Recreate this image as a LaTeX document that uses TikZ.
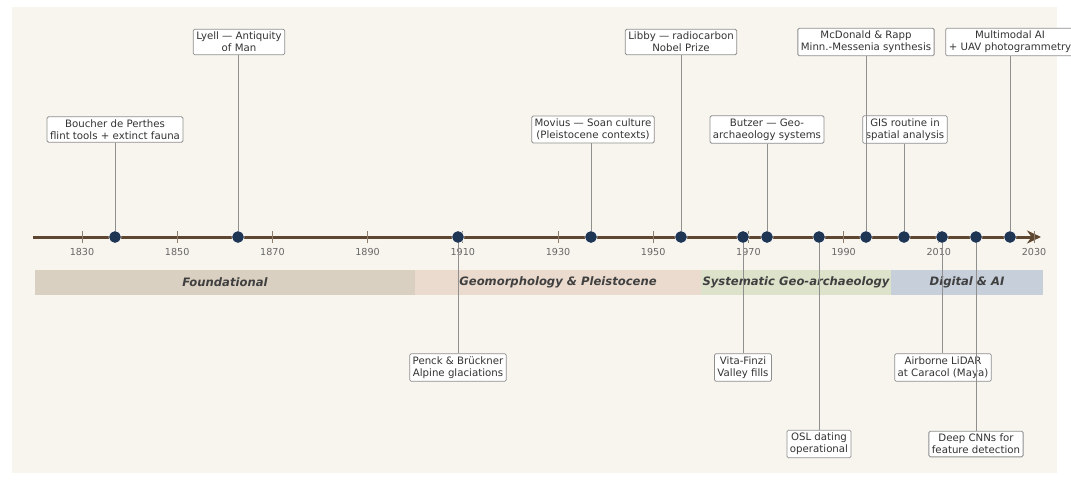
\documentclass[tikz,border=0pt]{standalone}
\usepackage{fontspec}
\setmainfont{DejaVu Sans}
\usetikzlibrary{arrows.meta}
\definecolor{cream}{HTML}{F8F5EE}
\definecolor{axisbrown}{HTML}{5E4630}
\definecolor{dotnavy}{HTML}{1F3554}
\definecolor{bandA}{HTML}{D9D0C1}
\definecolor{bandB}{HTML}{EBDBCF}
\definecolor{bandC}{HTML}{DDE3CB}
\definecolor{bandD}{HTML}{C7D0DA}
\definecolor{boxline}{HTML}{8F8F8F}
\definecolor{txt}{HTML}{333333}
\definecolor{ticktxt}{HTML}{666666}
\begin{document}
\begin{tikzpicture}[x=1pt,y=-1pt,
  evbox/.style={draw=boxline, fill=white, line width=0.8pt, rounded corners=1.5pt,
    inner xsep=3pt, inner ysep=3pt, align=center, text=txt,
    font=\fontsize{10.2}{11.8}\selectfont},
  conn/.style={draw=boxline, line width=0.7pt},
  evdot/.style={circle, fill=dotnavy, draw=white, line width=0.6pt, minimum size=12pt, inner sep=0pt},
  bandlabel/.style={font=\fontsize{11.6}{13}\selectfont\bfseries\itshape, text=black!75},
  ticklbl/.style={font=\fontsize{9.6}{11}\selectfont, text=ticktxt},
  tickmark/.style={draw=axisbrown!70, line width=0.7pt}]
\useasboundingbox (0,0) rectangle (1071,482);
\fill[white] (0,0) rectangle (1071,482);
\fill[cream] (12,7) rectangle (1057,473);
% phase bands
\fill[bandA] (35,270) rectangle (415,295);
\fill[bandB] (415,270) rectangle (701,295);
\fill[bandC] (701,270) rectangle (891,295);
\fill[bandD] (891,270) rectangle (1043,295);
\node[bandlabel] (bA) at (225,282.5) {Foundational};
\node[bandlabel] (bB) at (558,282.5) {Geomorphology \& Pleistocene};
\node[bandlabel] (bC) at (796,282.5) {Systematic Geo-archaeology};
\node[bandlabel] (bD) at (967,282.5) {Digital \& AI};
% axis
\coordinate (axs) at (33,237);
\coordinate (axe) at (1041,237);
\draw[axisbrown, line width=3pt, -{Stealth[length=14pt,width=13pt]}] (axs) -- (axe);
% ticks
\foreach \yr [count=\i from 0] in {1830,1850,...,2030}{
  \pgfmathsetmacro{\xx}{82+\i*95.2}
  \draw[tickmark] (\xx,231) -- (\xx,243);
  \node[ticklbl] (t\yr) at (\xx,252.5) {\yr};
}
% event dots
\node[evdot] (d1) at (115,237) {};
\node[evdot] (d2) at (238,237) {};
\node[evdot] (d3) at (458,237) {};
\node[evdot] (d4) at (591,237) {};
\node[evdot] (d5) at (681,237) {};
\node[evdot] (d6) at (743,237) {};
\node[evdot] (d7) at (767,237) {};
\node[evdot] (d8) at (819,237) {};
\node[evdot] (d9) at (866,237) {};
\node[evdot] (d10) at (904,237) {};
\node[evdot] (d11) at (942,237) {};
\node[evdot] (d12) at (976,237) {};
\node[evdot] (d13) at (1010,237) {};
% boxes above
\node[evbox] (e1) at (115,129.5) {Boucher de Perthes\\flint tools + extinct fauna};
\node[evbox] (e2) at (239,42) {Lyell — Antiquity\\of Man};
\node[evbox] (e4) at (593,129.5) {Movius — Soan culture\\(Pleistocene contexts)};
\node[evbox] (e5) at (681,42) {Libby — radiocarbon\\Nobel Prize};
\node[evbox] (e7) at (767,129.5) {Butzer — Geo-\\archaeology systems};
\node[evbox] (e9) at (866,42) {McDonald \& Rapp\\Minn.-Messenia synthesis};
\node[evbox] (e10) at (905,129.5) {GIS routine in\\spatial analysis};
\node[evbox] (e13) at (1010,42) {Multimodal AI\\+ UAV photogrammetry};
% boxes below
\node[evbox] (e3) at (458,367.5) {Penck \& Brückner\\Alpine glaciations};
\node[evbox] (e6) at (743,367.5) {Vita-Finzi\\Valley fills};
\node[evbox] (e8) at (819,444) {OSL dating\\operational};
\node[evbox] (e11) at (943,367.5) {Airborne LiDAR\\at Caracol (Maya)};
\node[evbox] (e12) at (976,444) {Deep CNNs for\\feature detection};
% connectors
\foreach \b/\d in {e1/d1,e2/d2,e4/d4,e5/d5,e7/d7,e9/d9,e10/d10,e13/d13}{
  \draw[conn] (\b.south -| \d) -- (\d.north);
}
\foreach \b/\d in {e3/d3,e6/d6,e8/d8,e11/d11,e12/d12}{
  \draw[conn] (\d.south) -- (\b.north -| \d);
}
% redraw dots on top of connectors
\foreach \d in {d1,d2,d3,d4,d5,d6,d7,d8,d9,d10,d11,d12,d13}{
  \fill[dotnavy] (\d.center) circle (5.6pt);
}
\end{tikzpicture}
\end{document}
